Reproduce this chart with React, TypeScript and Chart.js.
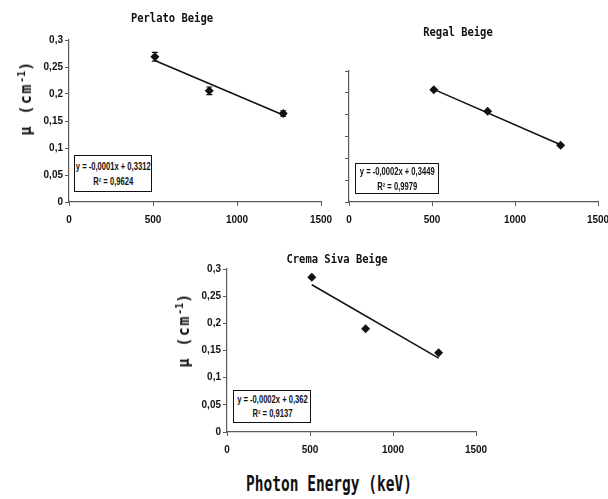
import React, { useEffect, useRef } from "react";
import { Chart, registerables } from "chart.js";

Chart.register(...registerables);

// ---- data ----
const energies = [511, 835, 1275];
const trendEnergies = [511, 1275];
const xTicks = [0, 500, 1000, 1500];
const yTicks = [0, 0.05, 0.1, 0.15, 0.2, 0.25, 0.3];

const perlatoMu = [0.269, 0.206, 0.164];
const perlatoErr = [0.008, 0.007, 0.005];
const perlatoTrend = [0.262, 0.161];
const perlatoEq = ["y = -0,0001x + 0,3312", "R² = 0,9624"];

const regalMu = [0.257, 0.208, 0.13];
const regalTrend = [0.258, 0.131];
const regalEq = ["y = -0,0002x + 0,3449", "R² = 0,9979"];

const cremaMu = [0.285, 0.19, 0.146];
const cremaTrend = [0.271, 0.136];
const cremaEq = ["y = -0,0002x + 0,362", "R² = 0,9137"];

const titles = ["Perlato Beige", "Regal Beige", "Crema Siva Beige"];
const yTitleMain = "μ (cm";
const yTitleSup = "-1";
const yTitleEnd = ")";
const xTitle = "Photon Energy (keV)";

const AXIS = "#5a5a5a";
const TICK_FONT = "'Liberation Sans', Arial, sans-serif";
const MONO = "'DejaVu Sans Mono', monospace";
const SANS = "'Liberation Sans', Arial, sans-serif";

type Pad = { left: number; right: number; top: number; bottom: number };
type PanelProps = {
  left: number;
  top: number;
  width: number;
  height: number;
  pad: Pad;
  yWidth: number;
  xHeight: number;
  mu: number[];
  trend: number[];
  err?: number[];
  showYLabels: boolean;
};

const errorBarPlugin = {
  id: "errorBars",
  afterDatasetsDraw(chart: any) {
    const ds = chart.data.datasets[0] as any;
    if (!ds.errors) return;
    const meta = chart.getDatasetMeta(0);
    const ys = chart.scales.y;
    const ctx = chart.ctx;
    ctx.save();
    ctx.strokeStyle = "#111";
    ctx.lineWidth = 1.2;
    meta.data.forEach((el: any, i: number) => {
      const v = ds.data[i].y;
      const e = ds.errors[i];
      const yTop = ys.getPixelForValue(v + e);
      const yBot = ys.getPixelForValue(v - e);
      ctx.beginPath();
      ctx.moveTo(el.x, yTop);
      ctx.lineTo(el.x, yBot);
      ctx.moveTo(el.x - 3, yTop);
      ctx.lineTo(el.x + 3, yTop);
      ctx.moveTo(el.x - 3, yBot);
      ctx.lineTo(el.x + 3, yBot);
      ctx.stroke();
    });
    ctx.restore();
  },
};

function Panel(p: PanelProps) {
  const ref = useRef<HTMLCanvasElement | null>(null);
  useEffect(() => {
    if (!ref.current) return;
    const scatter: any = {
      type: "scatter",
      data: energies.map((x, i) => ({ x, y: p.mu[i] })),
      pointStyle: "rectRot",
      pointRadius: 4.5,
      backgroundColor: "#111",
      borderColor: "#111",
      borderWidth: 0,
      showLine: false,
      errors: p.err,
      order: 1,
    };
    const trend: any = {
      type: "scatter",
      data: trendEnergies.map((x, i) => ({ x, y: p.trend[i] })),
      showLine: true,
      borderColor: "#111",
      borderWidth: 1.5,
      pointRadius: 0,
      order: 2,
    };
    const grid = {
      display: true,
      drawOnChartArea: false,
      drawTicks: true,
      tickLength: 4,
      color: AXIS,
      lineWidth: 1,
    };
    const chart = new Chart(ref.current, {
      type: "scatter",
      data: { datasets: [scatter, trend] },
      plugins: [errorBarPlugin],
      options: {
        animation: false,
        responsive: false,
        devicePixelRatio: 1,
        layout: { padding: p.pad },
        plugins: {
          legend: { display: false },
          tooltip: { enabled: false },
          title: { display: false },
        },
        scales: {
          x: {
            type: "linear",
            min: 0,
            max: 1500,
            afterBuildTicks: (s: any) => {
              s.ticks = xTicks.map((v) => ({ value: v }));
            },
            afterFit: (s: any) => {
              s.height = p.xHeight;
            },
            grid,
            border: { display: true, color: AXIS, width: 1.2 },
            ticks: {
              color: "#111",
              padding: 8,
              maxRotation: 0,
              font: { family: TICK_FONT, size: 10, weight: "bold" },
              callback: (v: any) => String(v),
            },
          },
          y: {
            type: "linear",
            min: 0,
            max: 0.3,
            afterBuildTicks: (s: any) => {
              s.ticks = yTicks.map((v) => ({ value: v }));
            },
            afterFit: (s: any) => {
              s.width = p.yWidth;
            },
            grid,
            border: { display: true, color: AXIS, width: 1.2 },
            ticks: {
              display: p.showYLabels,
              color: "#111",
              padding: 2,
              font: { family: TICK_FONT, size: 10, weight: "bold" },
              callback: (v: any) => String(Math.round(Number(v) * 100) / 100).replace(".", ","),
            },
          },
        },
      } as any,
    });
    return () => chart.destroy();
  }, []);
  return (
    <canvas
      ref={ref}
      width={p.width}
      height={p.height}
      style={{ position: "absolute", left: p.left, top: p.top, width: p.width, height: p.height }}
    />
  );
}

function Label(props: { x: number; y: number; text: string; font: string; transform?: string; spacing?: string }) {
  return (
    <div
      style={{
        position: "absolute",
        left: props.x,
        top: props.y,
        transform: `translate(-50%, -50%) ${props.transform || ""}`,
        font: props.font,
        whiteSpace: "nowrap",
        color: "#111",
        letterSpacing: props.spacing,
      }}
    >
      {props.text}
    </div>
  );
}

function YTitle(props: { x: number; y: number }) {
  return (
    <div
      style={{
        position: "absolute",
        left: props.x,
        top: props.y,
        transform: "translate(-50%, -50%) rotate(-90deg)",
        font: `bold 15px ${MONO}`,
        whiteSpace: "nowrap",
        color: "#111",
        letterSpacing: "1.5px",
        lineHeight: "18px",
      }}
    >
      {yTitleMain}
      <sup style={{ fontSize: "10px", verticalAlign: "6px", letterSpacing: 0 }}>{yTitleSup}</sup>
      {yTitleEnd}
    </div>
  );
}

function EqBox(props: { x: number; y: number; w: number; h: number; lines: string[]; lh: number }) {
  return (
    <div
      style={{
        position: "absolute",
        left: props.x,
        top: props.y,
        width: props.w,
        height: props.h,
        boxSizing: "border-box",
        border: "1.5px solid #111",
        background: "#fff",
        display: "flex",
        alignItems: "center",
        justifyContent: "center",
        color: "#111",
      }}
    >
      <div
        style={{
          font: `bold 10px ${SANS}`,
          lineHeight: `${props.lh}px`,
          whiteSpace: "nowrap",
          textAlign: "center",
          transform: "scaleX(0.76)",
        }}
      >
        {props.lines.map((l, i) => (
          <div key={i}>{l}</div>
        ))}
      </div>
    </div>
  );
}

export default function App() {
  return (
    <div
      style={{
        position: "absolute",
        left: 0,
        top: 0,
        width: 608,
        height: 499,
        overflow: "hidden",
        background: "#fff",
      }}
    >
      <Panel
        left={0}
        top={0}
        width={345}
        height={235}
        pad={{ left: 0, top: 40, right: 24, bottom: 0 }}
        yWidth={69}
        xHeight={33}
        mu={perlatoMu}
        trend={perlatoTrend}
        err={perlatoErr}
        showYLabels={true}
      />
      <Panel
        left={300}
        top={0}
        width={330}
        height={235}
        pad={{ left: 0, top: 71, right: 32, bottom: 0 }}
        yWidth={49}
        xHeight={33}
        mu={regalMu}
        trend={regalTrend}
        showYLabels={false}
      />
      <Panel
        left={140}
        top={240}
        width={360}
        height={230}
        pad={{ left: 0, top: 29, right: 24, bottom: 0 }}
        yWidth={87}
        xHeight={38}
        mu={cremaMu}
        trend={cremaTrend}
        showYLabels={true}
      />
      <Label x={172} y={17} text={titles[0]} font={`bold 10.5px ${MONO}`} transform="scaleY(1.2)" />
      <Label x={458} y={31} text={titles[1]} font={`bold 10.5px ${MONO}`} transform="scaleY(1.2)" />
      <Label x={337} y={258} text={titles[2]} font={`bold 10.5px ${MONO}`} transform="scaleY(1.2)" />
      <YTitle x={24} y={98} />
      <YTitle x={182} y={330} />
      <Label x={329} y={484} text={xTitle} font={`bold 14.5px ${MONO}`} transform="scaleY(1.4)" />
      <EqBox x={74} y={155} w={78} h={37} lines={perlatoEq} lh={15} />
      <EqBox x={355} y={163} w={84} h={31} lines={regalEq} lh={15} />
      <EqBox x={233} y={390} w={78} h={33} lines={cremaEq} lh={14} />
    </div>
  );
}
